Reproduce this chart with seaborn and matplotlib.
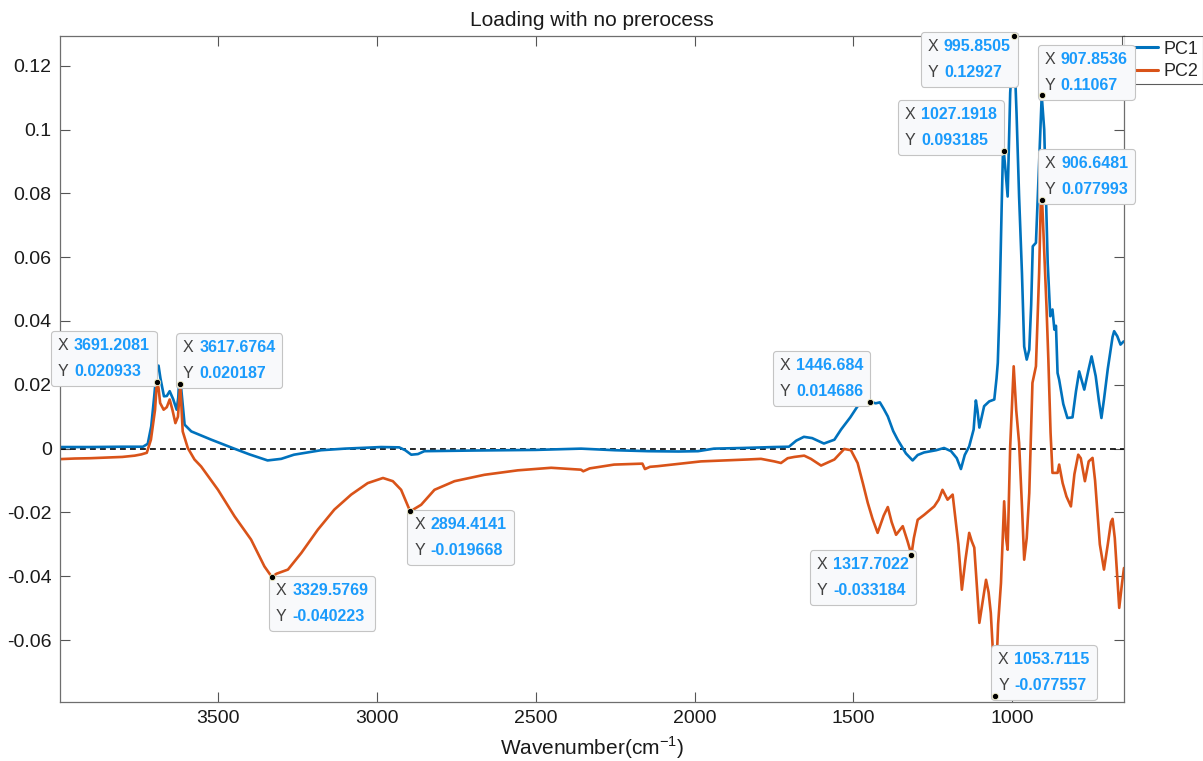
import numpy as np
import pandas as pd
import matplotlib
matplotlib.use("Agg")
import matplotlib.pyplot as plt
import seaborn as sns
from matplotlib.offsetbox import TextArea, HPacker, VPacker, AnnotationBbox

# ---- loading spectra (wavenumber in cm^-1, loading value) ----
pc1_wn = [4000, 3900, 3800, 3735, 3720, 3709, 3700, 3692, 3686, 3680, 3669, 3660, 3651, 3640,
          3629, 3624, 3619, 3614, 3604, 3583, 3520, 3448, 3400, 3343, 3300, 3260, 3175, 3100,
          3030, 2986, 2929, 2910, 2891, 2870, 2850, 2700, 2500, 2357, 2250, 2146, 2050, 1989,
          1939, 1850, 1750, 1703, 1680, 1656, 1630, 1593, 1560, 1539, 1510, 1487, 1460, 1446.684,
          1430, 1417, 1405, 1392, 1375, 1361, 1335, 1314, 1298, 1278, 1240, 1215, 1193, 1175,
          1162, 1150, 1136, 1122, 1115, 1110, 1104, 1089, 1073, 1057, 1050, 1046, 1041, 1034,
          1030, 1027.1918, 1022, 1015, 1007, 995.8505, 987, 979, 970, 963, 955, 947, 941, 936,
          926, 916, 907.8536, 900, 889, 881, 874, 868, 863, 858, 853, 840, 827, 811, 800, 790,
          774, 760, 751, 738, 728, 720, 712, 700, 685, 680, 670, 660, 650]
pc1_val = [0.0005, 0.0005, 0.0006, 0.0006, 0.0015, 0.007, 0.016, 0.0245, 0.026, 0.022, 0.0164,
           0.0165, 0.018, 0.0155, 0.0122, 0.016, 0.026, 0.018, 0.0075, 0.0054, 0.0028, 0.0,
           -0.0018, -0.0037, -0.0032, -0.0019, -0.0005, 0.0, 0.0003, 0.0005, 0.0004, -0.0005,
           -0.0019, -0.0017, -0.0008, -0.0006, -0.0004, 0.0, -0.0005, -0.0008, -0.0009, -0.0008,
           0.0, 0.0002, 0.0005, 0.0006, 0.0025, 0.0037, 0.0033, 0.0016, 0.0028, 0.006, 0.0098,
           0.0133, 0.0145, 0.014686, 0.0142, 0.0145, 0.0125, 0.0101, 0.0055, 0.0028, -0.0015,
           -0.0037, -0.002, -0.0012, -0.0005, 0.0002, -0.0008, -0.003, -0.0064, -0.002, 0.0007,
           0.006, 0.0151, 0.012, 0.0066, 0.0133, 0.0148, 0.0154, 0.022, 0.0269, 0.0426, 0.075,
           0.092, 0.093185, 0.0875, 0.079, 0.1115, 0.12927, 0.105, 0.079, 0.055, 0.032, 0.0279,
           0.031, 0.045, 0.0634, 0.0645, 0.0896, 0.11067, 0.1, 0.0582, 0.0415, 0.0436, 0.0373,
           0.0385, 0.0237, 0.0216, 0.014, 0.0096, 0.0098, 0.018, 0.0242, 0.0185, 0.025, 0.0289,
           0.0227, 0.015, 0.0096, 0.0154, 0.025, 0.035, 0.0368, 0.0352, 0.0326, 0.0336]

pc2_wn = [4000, 3950, 3900, 3850, 3800, 3761, 3740, 3723, 3710, 3697, 3691.2081, 3686, 3681,
          3670, 3660, 3651, 3642, 3633, 3625, 3617.6764, 3610, 3594, 3573, 3552, 3499, 3447,
          3395, 3353, 3329.5769, 3315, 3279, 3237, 3185, 3133, 3080, 3028, 2980, 2949, 2923,
          2894.4141, 2860, 2818, 2755, 2661, 2556, 2451, 2357, 2350, 2330, 2253, 2164, 2156,
          2140, 2116, 1980, 1833, 1791, 1749, 1728, 1707, 1686, 1655, 1634, 1602, 1560, 1529,
          1508, 1487, 1470, 1455, 1440, 1424, 1405, 1392, 1380, 1366, 1345, 1330, 1317.7022,
          1310, 1298, 1277, 1246, 1232, 1220, 1204, 1188, 1170, 1159, 1148, 1136, 1128, 1120,
          1104, 1083, 1075, 1068, 1053.7115, 1045, 1036, 1026, 1020, 1015, 1007, 996, 988, 979,
          970, 963, 955, 947, 937, 926, 916, 910, 906.6481, 900, 893, 887, 880, 874, 858, 853,
          842, 830, 816, 805, 793, 785, 772, 760, 748, 740, 725, 712, 700, 690, 685, 678, 664,
          655, 649]
pc2_val = [-0.0033, -0.0031, -0.0030, -0.0028, -0.0026, -0.0022, -0.0018, -0.0013, 0.0028,
           0.0122, 0.020933, 0.019, 0.0143, 0.0122, 0.013, 0.0154, 0.012, 0.008, 0.01, 0.020187,
           0.0054, 0.0002, -0.0034, -0.0056, -0.0129, -0.0212, -0.0285, -0.0369, -0.040223,
           -0.0392, -0.0379, -0.0327, -0.0254, -0.0191, -0.0144, -0.0108, -0.0092, -0.0102,
           -0.0129, -0.019668, -0.0176, -0.0129, -0.0102, -0.0082, -0.0068, -0.006, -0.0066,
           -0.0071, -0.0062, -0.005, -0.0047, -0.0064, -0.0057, -0.0055, -0.004, -0.0034,
           -0.0032, -0.004, -0.0045, -0.003, -0.0026, -0.0022, -0.0032, -0.0053, -0.0034,
           -0.0001, -0.0005, -0.0045, -0.011, -0.017, -0.022, -0.0264, -0.021, -0.0183, -0.023,
           -0.027, -0.0243, -0.029, -0.033184, -0.028, -0.0223, -0.0207, -0.0181, -0.016,
           -0.0129, -0.016, -0.0144, -0.03, -0.0442, -0.035, -0.0264, -0.029, -0.031, -0.0546,
           -0.0411, -0.045, -0.0515, -0.077557, -0.055, -0.0421, -0.0165, -0.028, -0.0317,
           0.0007, 0.0258, 0.012, 0.0018, -0.018, -0.0348, -0.028, -0.0139, 0.0206, 0.0258,
           0.055, 0.0807, 0.077993, 0.062, 0.045, 0.028, 0.005, -0.0076, -0.0076, -0.005,
           -0.0108, -0.015, -0.0181, -0.008, -0.0019, -0.003, -0.0102, -0.004, -0.0029, -0.01,
           -0.03, -0.0379, -0.03, -0.023, -0.022, -0.028, -0.0499, -0.042, -0.0374]

# ---- data tips: (series, x label, y label, corner) ----
tips = [
    ("PC2", "3691.2081", "0.020933", "ul"),
    ("PC2", "3617.6764", "0.020187", "ur"),
    ("PC2", "3329.5769", "-0.040223", "lr"),
    ("PC2", "2894.4141", "-0.019668", "lr"),
    ("PC1", "1446.684", "0.014686", "ul"),
    ("PC2", "1317.7022", "-0.033184", "ll"),
    ("PC2", "1053.7115", "-0.077557", "ur"),
    ("PC1", "995.8505", "0.12927", "ll"),
    ("PC1", "1027.1918", "0.093185", "ul"),
    ("PC1", "907.8536", "0.11067", "ur"),
    ("PC2", "906.6481", "0.077993", "ur"),
]

yticks = [-0.06, -0.04, -0.02, 0, 0.02, 0.04, 0.06, 0.08, 0.1, 0.12]
xticks = [3500, 3000, 2500, 2000, 1500, 1000]

df = pd.concat([
    pd.DataFrame({"Wavenumber": pc1_wn, "Loading": pc1_val, "Component": "PC1"}),
    pd.DataFrame({"Wavenumber": pc2_wn, "Loading": pc2_val, "Component": "PC2"}),
], ignore_index=True)

sns.set_style("white")
plt.rcParams["font.family"] = ["Liberation Sans", "DejaVu Sans"]
plt.rcParams["mathtext.fontset"] = "custom"
plt.rcParams["mathtext.rm"] = "Liberation Sans"

fig = plt.figure(figsize=(12.03, 7.61), dpi=100)
ax = fig.add_axes([60 / 1203, 1 - 701.7 / 761, 1064 / 1203, (701.7 - 36) / 761])

palette = {"PC1": "#0072BD", "PC2": "#D95319"}
sns.lineplot(data=df, x="Wavenumber", y="Loading", hue="Component", palette=palette,
             linewidth=1.9, ax=ax, estimator=None, legend=True)

ax.axhline(0, color="black", linestyle=(0, (3.5, 2.5)), linewidth=1.2, zorder=1)

ax.set_xlim(3996, 649)
ax.set_ylim(-0.0793, 0.1293)
ax.set_xticks(xticks)
ax.set_xticklabels([str(v) for v in xticks])
ax.set_yticks(yticks)
ax.set_yticklabels(["%g" % v for v in yticks])
ax.tick_params(axis="both", direction="in", length=7, width=0.8, color="#555555",
               labelsize=14, labelcolor="#1a1a1a", top=True, right=True,
               bottom=True, left=True, pad=6)
for s in ax.spines.values():
    s.set_color("#6e6e6e")
    s.set_linewidth(0.9)

ax.set_title("Loading with no prerocess", fontsize=15, pad=7, color="#1a1a1a")
ax.set_xlabel(r"Wavenumber(cm$^{\mathregular{-1}}$)", fontsize=15, labelpad=5, color="#1a1a1a")
ax.set_ylabel("")

leg = ax.legend(loc="upper left", bbox_to_anchor=(0.998, 1.0), borderaxespad=0,
                fontsize=13, frameon=True, fancybox=False, handlelength=1.75,
                handletextpad=0.3, borderpad=0.25, labelspacing=0.3)
leg.get_frame().set_edgecolor("#333333")
leg.get_frame().set_linewidth(0.8)
for h in leg.get_lines():
    h.set_linewidth(2.2)
leg.set_title(None)

series = {"PC1": (pc1_wn, pc1_val), "PC2": (pc2_wn, pc2_val)}
lab_style = dict(color="#404040", fontsize=11.5)
val_style = dict(color="#1a9bfc", fontsize=11.5, fontweight="bold")
corner_align = {"ul": (1, 0), "ur": (0, 0), "ll": (1, 1), "lr": (0, 1)}
corner_off = {"ul": (-5, 2), "ur": (2, 2), "ll": (-2, -2), "lr": (3, -4)}

for name, xs, ys, corner in tips:
    wn, vals = series[name]
    xv = float(xs)
    yv = vals[wn.index(xv)]
    ax.plot([xv], [yv], marker="o", markersize=4.5, color="black",
            markeredgecolor="#f3f0c8", markeredgewidth=0.6, zorder=9, clip_on=False)
    rows = [
        HPacker(children=[TextArea("X", textprops=lab_style), TextArea(xs, textprops=val_style)],
                sep=4, pad=0, align="baseline"),
        HPacker(children=[TextArea("Y", textprops=lab_style), TextArea(ys, textprops=val_style)],
                sep=4, pad=0, align="baseline"),
    ]
    box = VPacker(children=rows, sep=8, pad=0, align="left")
    ab = AnnotationBbox(box, (xv, yv), xybox=corner_off[corner], boxcoords="offset points",
                        box_alignment=corner_align[corner], frameon=True, pad=0.5,
                        annotation_clip=False,
                        bboxprops=dict(boxstyle="round,pad=0.5,rounding_size=0.25",
                                       fc="#f8f9fb", ec="#c4c4c4", lw=0.8))
    ab.set_zorder(7)
    ax.add_artist(ab)

fig.savefig("out.png", dpi=100)
